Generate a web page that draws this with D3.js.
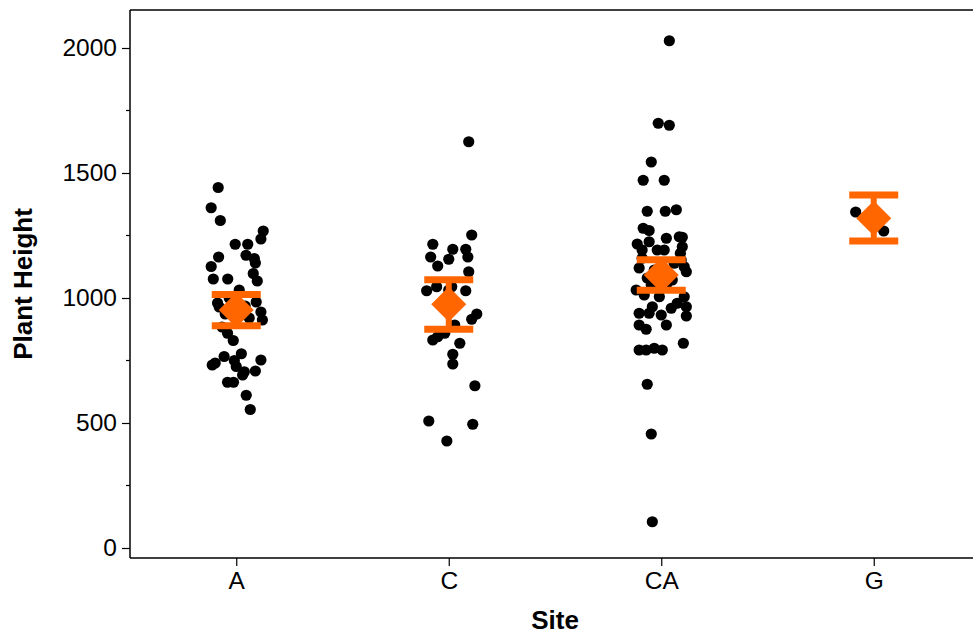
<!DOCTYPE html>
<html>
<head>
<meta charset="utf-8">
<script src="https://cdn.jsdelivr.net/npm/d3@7"></script>
<style>
  body { margin: 0; background: #fff; }
  svg { display: block; font-family: "Liberation Sans", Arial, sans-serif; }
  .tick text { font-size: 24.5px; fill: #000; }
  .axis-title { font-size: 26px; font-weight: bold; }
</style>
</head>
<body>
<div id="chart"></div>
<script>
// categories
let sites = ["A", "C", "CA", "G"]

// plant heights per site, with horizontal jitter (fraction of the site spacing)
let heightA = [1442, 1361, 1310, 1268, 1236, 1215, 1215, 1164, 1171, 1158, 1140, 1126, 1076, 1076, 1098, 1068,
    1032, 980, 964, 984, 944, 912, 884, 859, 830, 766, 777, 732, 740, 750, 726, 752, 705, 692, 708, 663, 663,
    611, 554, 1000, 968, 936, 920]
let jitterA = [-0.085, -0.118, -0.075, 0.127, 0.116, -0.005, 0.054, -0.083, 0.046, 0.085, 0.090, -0.118, -0.108,
    -0.040, 0.080, 0.099, 0.014, -0.088, -0.080, 0.094, 0.116, 0.123, -0.067, -0.041, -0.014, -0.057, 0.024,
    -0.113, -0.099, -0.009, 0, 0.116, 0.038, 0.030, 0.090, -0.041, -0.013, 0.047, 0.066, -0.033, 0.042, -0.052, 0.061]

let heightC = [1625, 1252, 1215, 1195, 1195, 1164, 1155, 1164, 1128, 1105, 1045, 1029, 1029, 1045, 936, 915,
    892, 832, 845, 859, 819, 775, 736, 649, 508, 495, 428, 1032, 972]
let jitterC = [0.094, 0.108, -0.075, 0.019, 0.080, -0.085, 0, 0.090, -0.052, 0.094, -0.057, -0.104, 0.080, 0.014,
    0.132, 0.108, 0.028, -0.075, -0.052, -0.019, 0.052, 0.019, 0.019, 0.123, -0.094, 0.113, -0.009, 0, 0.028]

let heightCA = [2029, 1699, 1691, 1544, 1471, 1471, 1347, 1347, 1353, 1279, 1270, 1216, 1225, 1239, 1245, 1243,
    1192, 1192, 1192, 1205, 1179, 1159, 1152, 1125, 1105, 1139, 1032, 1012, 1052, 1005, 1059, 1072, 1005, 965,
    979, 959, 965, 939, 939, 932, 928, 892, 875, 892, 792, 792, 799, 792, 819, 655, 456, 105, 1112, 1092, 1132,
    1080, 1120]
let jitterCA = [0.038, -0.014, 0.038, -0.047, -0.085, 0.014, -0.066, 0.019, 0.071, -0.085, -0.057, -0.113, -0.057,
    0.024, 0.085, 0.099, -0.090, -0.019, 0.014, 0.099, 0.090, -0.090, 0.094, 0.108, 0.118, 0.061, -0.118, -0.080,
    -0.047, -0.009, 0.028, 0.052, 0.108, 0.118, 0.075, 0.047, -0.042, -0.057, -0.104, 0, 0.118, -0.104, -0.071,
    0.024, -0.104, -0.071, -0.033, 0.005, 0.104, -0.066, -0.047, -0.042, -0.033, 0.028, 0, -0.066, -0.104]

let heightG = [1344, 1268]
let jitterG = [-0.085, 0.047]

// site means and confidence limits
let meanValues = [952, 975, 1092, 1319]
let ciLow = [889, 875, 1031, 1228]
let ciHigh = [1014, 1073, 1153, 1412]

// axis ticks
let majorTicks = [0, 500, 1000, 1500, 2000]
let minorTicks = [250, 750, 1250, 1750]

let width = 973
let height = 634
let marginLeft = 130
let plotRight = 980
let plotTop = 10
let plotBottom = 558
let orange = "#ff6600"

let svg = d3.select("#chart")
    .append("svg")
    .attr("width", width)
    .attr("height", height)

let scaleX = d3.scalePoint()
    .domain(sites)
    .range([marginLeft, plotRight])
    .padding(0.5)

let scaleY = d3.scaleLinear()
    .domain([0, 2000])
    .range([548, 48])

let scaleJitter = d3.scaleLinear()
    .domain([-0.5, 0.5])
    .range([-scaleX.step() / 2, scaleX.step() / 2])

// gather all points into one list
let points = []
let groups = [[heightA, jitterA], [heightC, jitterC], [heightCA, jitterCA], [heightG, jitterG]]
groups.forEach(function (g, i) {
    g[0].forEach(function (v, j) {
        points.push({site: sites[i], value: v, jitter: g[1][j]})
    })
})
let summary = sites.map(function (s, i) {
    return {site: s, mean: meanValues[i], low: ciLow[i], high: ciHigh[i]}
})

// frame
svg.append("line")
    .attr("x1", marginLeft).attr("x2", plotRight)
    .attr("y1", plotTop).attr("y2", plotTop)
    .attr("stroke", "#000").attr("stroke-width", 1.5)

// y axis
let axisY = d3.axisLeft(scaleY).tickValues(majorTicks).tickFormat(d3.format("d"))
    .tickSize(8).tickSizeOuter(0).tickPadding(5)
let gy = svg.append("g")
    .attr("transform", `translate(${marginLeft}, 0)`)
    .call(axisY)
gy.select(".domain").remove()
gy.selectAll(".tick line").attr("stroke-width", 1.2)
gy.append("line")
    .attr("x1", 0).attr("x2", 0)
    .attr("y1", plotTop).attr("y2", plotBottom)
    .attr("stroke", "#000").attr("stroke-width", 1.5)
gy.selectAll(".minor")
    .data(minorTicks)
    .enter()
    .append("line")
    .attr("x1", -4).attr("x2", 0)
    .attr("y1", d => scaleY(d)).attr("y2", d => scaleY(d))
    .attr("stroke", "#000").attr("stroke-width", 1.2)

// x axis
let axisX = d3.axisBottom(scaleX).tickSize(8).tickSizeOuter(0).tickPadding(6)
let gx = svg.append("g")
    .attr("transform", `translate(0, ${plotBottom})`)
    .call(axisX)
gx.select(".domain").remove()
gx.selectAll(".tick line").attr("stroke-width", 1.2)
gx.append("line")
    .attr("x1", marginLeft).attr("x2", plotRight)
    .attr("y1", 0).attr("y2", 0)
    .attr("stroke", "#000").attr("stroke-width", 1.5)

// axis titles
svg.append("text")
    .attr("class", "axis-title")
    .attr("x", (marginLeft + plotRight) / 2)
    .attr("y", 629)
    .attr("text-anchor", "middle")
    .text("Site")

svg.append("text")
    .attr("class", "axis-title")
    .attr("transform", `translate(32, ${(plotTop + plotBottom) / 2}) rotate(-90)`)
    .attr("text-anchor", "middle")
    .text("Plant Height")

// raw points
svg.selectAll(".dot")
    .data(points)
    .enter()
    .append("circle")
    .attr("class", "dot")
    .attr("r", 5.6)
    .attr("cx", d => scaleX(d.site) + scaleJitter(d.jitter))
    .attr("cy", d => scaleY(d.value))
    .style("fill", "#000")

// mean diamonds
let dia = 17.5
svg.selectAll(".mean")
    .data(summary)
    .enter()
    .append("path")
    .attr("class", "mean")
    .attr("d", function (d) {
        let cx = scaleX(d.site), cy = scaleY(d.mean)
        return `M${cx},${cy - dia}L${cx + dia},${cy}L${cx},${cy + dia}L${cx - dia},${cy}Z`
    })
    .style("fill", orange)

// error bars
let capHalf = 24.5
let errG = svg.selectAll(".err")
    .data(summary)
    .enter()
    .append("g")
    .attr("class", "err")
errG.append("line")
    .attr("x1", d => scaleX(d.site)).attr("x2", d => scaleX(d.site))
    .attr("y1", d => scaleY(d.high)).attr("y2", d => scaleY(d.low))
    .attr("stroke", orange).attr("stroke-width", 6)
errG.append("line")
    .attr("x1", d => scaleX(d.site) - capHalf).attr("x2", d => scaleX(d.site) + capHalf)
    .attr("y1", d => scaleY(d.high)).attr("y2", d => scaleY(d.high))
    .attr("stroke", orange).attr("stroke-width", 7)
errG.append("line")
    .attr("x1", d => scaleX(d.site) - capHalf).attr("x2", d => scaleX(d.site) + capHalf)
    .attr("y1", d => scaleY(d.low)).attr("y2", d => scaleY(d.low))
    .attr("stroke", orange).attr("stroke-width", 7)
</script>
</body>
</html>
